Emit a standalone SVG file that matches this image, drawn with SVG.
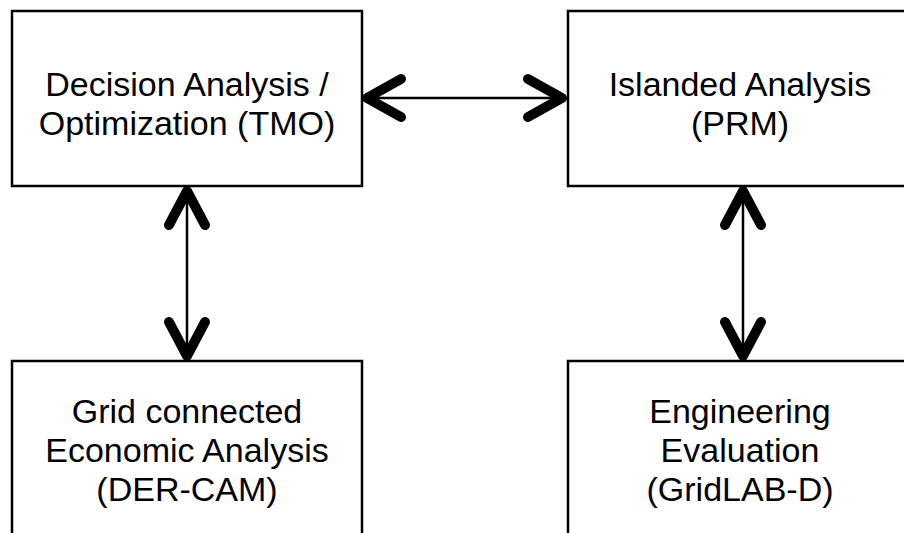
<svg xmlns="http://www.w3.org/2000/svg" width="904" height="533" viewBox="0 0 904 533">
<style>
.box{fill:#fff;stroke:#000;stroke-width:2.5}
.t{font-family:"Liberation Sans",Arial,sans-serif;font-size:34px;fill:#000;text-anchor:middle}
.ln{stroke:#000;stroke-width:2.5;fill:none}
.hd{stroke:#000;stroke-width:10;fill:none;stroke-linecap:round;stroke-linejoin:round}
</style>
<rect width="904" height="533" fill="#fff"/>
<g id="connectors">
<line class="ln" x1="366" y1="98" x2="563" y2="98"/>
<polyline class="hd" points="401,79 367,98 401,117"/>
<polyline class="hd" points="528,79 562,98 528,117"/>
<line class="ln" x1="187" y1="190" x2="187" y2="357"/>
<polyline class="hd" points="169,225 187,191 205,225"/>
<polyline class="hd" points="169,322 187,356 205,322"/>
<line class="ln" x1="743" y1="190" x2="743" y2="357"/>
<polyline class="hd" points="725,225 743,191 761,225"/>
<polyline class="hd" points="725,322 743,356 761,322"/>
</g>
<g id="tmo">
<rect class="box" x="12" y="11" width="350" height="175"/>
<text class="t" x="187" y="96">Decision Analysis /</text>
<text class="t" x="187" y="135">Optimization (TMO)</text>
</g>
<g id="prm">
<rect class="box" x="568" y="11" width="350" height="175"/>
<text class="t" x="740" y="96">Islanded Analysis</text>
<text class="t" x="740" y="135">(PRM)</text>
</g>
<g id="dercam">
<rect class="box" x="12" y="361" width="350" height="185"/>
<text class="t" x="187" y="423">Grid connected</text>
<text class="t" x="187" y="462">Economic Analysis</text>
<text class="t" x="187" y="501">(DER-CAM)</text>
</g>
<g id="gridlabd">
<rect class="box" x="568" y="361" width="350" height="185"/>
<text class="t" x="740" y="423">Engineering</text>
<text class="t" x="740" y="462">Evaluation</text>
<text class="t" x="740" y="501">(GridLAB-D)</text>
</g>
</svg>
